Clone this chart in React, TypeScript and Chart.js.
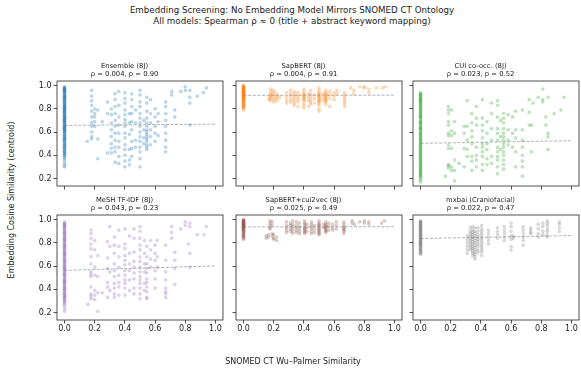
import React, { useEffect, useRef } from 'react';
import { Chart, registerables } from 'chart.js';

Chart.register(...registerables);

const FONT = '"DejaVu Sans", "Liberation Sans", sans-serif';

const figureTitle = 'Embedding Screening: No Embedding Model Mirrors SNOMED CT Ontology';
const figureSubtitle = 'All models: Spearman ρ ≈ 0 (title + abstract keyword mapping)';
const xAxisLabel = 'SNOMED CT Wu–Palmer Similarity';
const yAxisLabel = 'Embedding Cosine Similarity (centroid)';

const xTickValues = [0, 0.2, 0.4, 0.6, 0.8, 1.0];
const yTickValues = [0.2, 0.4, 0.6, 0.8, 1.0];

const panelNames = ['Ensemble (8J)', 'SapBERT (8J)', 'CUI co-occ. (8J)', 'MeSH TF-IDF (8J)', 'SapBERT+cui2vec (8J)', 'mxbai (Craniofacial)'];
const panelStats = ['ρ = 0.004, p = 0.90', 'ρ = 0.004, p = 0.91', 'ρ = 0.023, p = 0.52', 'ρ = 0.043, p = 0.23', 'ρ = 0.025, p = 0.49', 'ρ = 0.022, p = 0.47'];
const panelColors = ['#1f77b4', '#ff7f0e', '#2ca02c', '#9467bd', '#8c564b', '#7f7f7f'];
const trendStart = [0.658, 0.916, 0.503, 0.562, 0.937, 0.837];
const trendEnd = [0.668, 0.918, 0.525, 0.602, 0.939, 0.863];

type Col = [number, number[]];

const ensembleCols: Col[] = [
  [0, [0.99, 0.985, 0.98, 0.97, 0.965, 0.955, 0.95, 0.94, 0.935, 0.92, 0.915, 0.905, 0.9, 0.89, 0.88, 0.875, 0.86, 0.85, 0.845, 0.83, 0.82, 0.81, 0.8, 0.79, 0.78, 0.77, 0.76, 0.745, 0.74, 0.73, 0.72, 0.71, 0.7, 0.69, 0.68, 0.665, 0.66, 0.65, 0.64, 0.63, 0.62, 0.61, 0.6, 0.585, 0.57, 0.56, 0.55, 0.54, 0.53, 0.52, 0.5, 0.49, 0.48, 0.47, 0.46, 0.45, 0.44, 0.43, 0.42, 0.41, 0.4, 0.38, 0.37, 0.35, 0.33, 0.31, 0.3]],
  [0, [0.975, 0.962, 0.948, 0.928, 0.91, 0.896, 0.884, 0.866, 0.852, 0.836, 0.824, 0.815, 0.805, 0.795, 0.785, 0.775, 0.765, 0.752, 0.735, 0.725, 0.715, 0.705, 0.695, 0.685, 0.672, 0.655, 0.645, 0.635, 0.625, 0.615, 0.605, 0.592, 0.578, 0.565, 0.545, 0.535, 0.515, 0.505, 0.485, 0.465, 0.435, 0.415, 0.395]],
  [0.15, [0.52]],
  [0.18, [0.96, 0.91, 0.87, 0.83, 0.78, 0.73, 0.68, 0.65, 0.6, 0.56, 0.54]],
  [0.2, [0.8, 0.76, 0.73, 0.69, 0.65]],
  [0.22, [0.79, 0.54, 0.37]],
  [0.25, [0.69]],
  [0.285, [0.86, 0.76, 0.42]],
  [0.31, [0.8, 0.75, 0.68, 0.62, 0.56, 0.5, 0.46, 0.42]],
  [0.335, [0.93, 0.88, 0.82, 0.76, 0.7, 0.65, 0.59, 0.53, 0.47, 0.43, 0.34]],
  [0.36, [0.95, 0.83, 0.73, 0.66, 0.59, 0.52, 0.47, 0.39, 0.33]],
  [0.4, [0.94, 0.89, 0.85, 0.79, 0.75, 0.71, 0.68, 0.65, 0.59, 0.55, 0.49, 0.45, 0.4, 0.35, 0.3]],
  [0.43, [0.76, 0.68, 0.58, 0.45, 0.36, 0.32]],
  [0.445, [0.93, 0.88, 0.82, 0.76, 0.69, 0.62, 0.52, 0.46, 0.39]],
  [0.47, [0.79, 0.68, 0.53, 0.47]],
  [0.5, [0.96, 0.92, 0.86, 0.82, 0.76, 0.72, 0.68, 0.65, 0.6, 0.56, 0.52, 0.47, 0.43, 0.37, 0.3]],
  [0.525, [0.7, 0.62, 0.55, 0.5]],
  [0.545, [0.9, 0.85, 0.78, 0.72, 0.68, 0.65, 0.62, 0.6, 0.58, 0.56, 0.54, 0.52, 0.49, 0.47, 0.45]],
  [0.57, [0.88, 0.76, 0.68, 0.62, 0.56, 0.49]],
  [0.6, [0.8, 0.73, 0.65, 0.59, 0.52]],
  [0.62, [0.76, 0.69, 0.57]],
  [0.67, [0.86, 0.82, 0.76, 0.7, 0.65, 0.59, 0.53, 0.47, 0.43]],
  [0.71, [0.95, 0.92]],
  [0.73, [0.79, 0.73]],
  [0.77, [0.95]],
  [0.8, [0.99, 0.96]],
  [0.83, [0.96, 0.9, 0.85, 0.66]],
  [0.88, [0.91]],
  [0.92, [0.94]],
  [0.94, [0.98]],
];

const sapbertCols: Col[] = [
  [0, [1.0, 0.995, 0.99, 0.985, 0.98, 0.975, 0.97, 0.965, 0.96, 0.955, 0.95, 0.945, 0.94, 0.935, 0.93, 0.925, 0.92, 0.915, 0.91, 0.905, 0.9, 0.895, 0.89, 0.885, 0.88, 0.87, 0.865, 0.86, 0.85, 0.845, 0.84, 0.83, 0.82, 0.81, 0.8, 0.79]],
  [0, [0.997, 0.987, 0.978, 0.968, 0.958, 0.948, 0.938, 0.928, 0.918, 0.908, 0.898, 0.888, 0.875, 0.855, 0.835, 0.825, 0.815]],
  [0.17, [0.9, 0.88]],
  [0.18, [0.97, 0.95, 0.93, 0.92, 0.91, 0.89, 0.87]],
  [0.2, [0.96, 0.94, 0.92, 0.9, 0.88, 0.86]],
  [0.22, [0.93, 0.91, 0.89, 0.87]],
  [0.24, [0.9]],
  [0.285, [0.94, 0.9, 0.87, 0.85]],
  [0.31, [0.96, 0.93, 0.91, 0.88, 0.86]],
  [0.335, [0.95, 0.93, 0.91, 0.89, 0.87, 0.85, 0.83]],
  [0.36, [0.94, 0.92, 0.9, 0.88, 0.86, 0.82]],
  [0.4, [0.97, 0.95, 0.93, 0.92, 0.91, 0.9, 0.89, 0.88, 0.87, 0.85, 0.83, 0.81]],
  [0.43, [0.93, 0.9, 0.87, 0.82]],
  [0.445, [0.96, 0.93, 0.91, 0.88, 0.86, 0.84]],
  [0.47, [0.92, 0.89, 0.85]],
  [0.5, [0.98, 0.96, 0.94, 0.93, 0.92, 0.91, 0.9, 0.89, 0.88, 0.87, 0.86, 0.85, 0.83, 0.8, 0.78]],
  [0.525, [0.93, 0.9, 0.87]],
  [0.545, [0.96, 0.94, 0.93, 0.92, 0.91, 0.9, 0.89, 0.88, 0.87, 0.86, 0.84]],
  [0.57, [0.95, 0.92, 0.89, 0.82]],
  [0.6, [0.94, 0.91, 0.88]],
  [0.62, [0.96, 0.93]],
  [0.67, [0.94, 0.92, 0.9, 0.88, 0.86, 0.84, 0.82]],
  [0.71, [0.98]],
  [0.73, [0.96, 0.93]],
  [0.77, [0.99]],
  [0.8, [0.99, 0.98]],
  [0.83, [0.97, 0.94]],
  [0.88, [0.98]],
  [0.92, [0.98]],
  [0.94, [0.99]],
];

const cuiCols: Col[] = [
  [0, [0.94, 0.93, 0.92, 0.905, 0.89, 0.88, 0.87, 0.855, 0.84, 0.83, 0.82, 0.805, 0.79, 0.78, 0.77, 0.755, 0.74, 0.73, 0.72, 0.705, 0.69, 0.68, 0.67, 0.655, 0.64, 0.63, 0.62, 0.605, 0.59, 0.58, 0.57, 0.555, 0.54, 0.53, 0.52, 0.505, 0.49, 0.48, 0.47, 0.455, 0.44, 0.43, 0.42, 0.405, 0.39, 0.38, 0.37, 0.355, 0.34, 0.33, 0.32, 0.305, 0.29, 0.28, 0.27, 0.255, 0.24, 0.23, 0.22, 0.2, 0.185, 0.17]],
  [0, [0.925, 0.91, 0.895, 0.875, 0.86, 0.845, 0.815, 0.795, 0.765, 0.745, 0.725, 0.695, 0.675, 0.645, 0.625, 0.595, 0.565, 0.545, 0.515, 0.495, 0.465, 0.445, 0.415, 0.395, 0.365, 0.345, 0.315, 0.295, 0.265, 0.245, 0.215]],
  [0.165, [0.22]],
  [0.185, [0.82, 0.79, 0.76, 0.69, 0.66, 0.59, 0.57, 0.49, 0.46, 0.32, 0.31, 0.29]],
  [0.205, [0.79, 0.61, 0.57, 0.46, 0.3, 0.27]],
  [0.225, [0.69, 0.59, 0.36, 0.27, 0.18]],
  [0.255, [0.33]],
  [0.29, [0.65, 0.59, 0.46, 0.3]],
  [0.31, [0.87, 0.65, 0.53, 0.45, 0.39]],
  [0.34, [0.76, 0.68, 0.61, 0.56, 0.5, 0.39, 0.35, 0.27]],
  [0.37, [0.82, 0.72, 0.66, 0.47, 0.4, 0.36, 0.3]],
  [0.41, [0.88, 0.72, 0.66, 0.61, 0.55, 0.5, 0.47, 0.43, 0.39, 0.32, 0.27]],
  [0.44, [0.69, 0.59, 0.5, 0.45, 0.37, 0.32]],
  [0.47, [0.85, 0.76, 0.63, 0.53, 0.39, 0.33]],
  [0.51, [0.87, 0.83, 0.73, 0.63, 0.59, 0.53, 0.47, 0.43, 0.39, 0.36, 0.3, 0.24]],
  [0.53, [0.7, 0.56, 0.45]],
  [0.55, [0.76, 0.72, 0.68, 0.63, 0.59, 0.56, 0.53, 0.5, 0.47, 0.43, 0.4, 0.36, 0.32, 0.28]],
  [0.58, [0.75, 0.62, 0.53, 0.49]],
  [0.61, [0.73, 0.59, 0.47]],
  [0.63, [0.78, 0.62, 0.55, 0.43, 0.3]],
  [0.675, [0.79, 0.62, 0.53, 0.47, 0.4, 0.35, 0.3, 0.22]],
  [0.72, [0.88, 0.77, 0.66]],
  [0.735, [0.66, 0.43]],
  [0.745, [0.85]],
  [0.78, [0.9]],
  [0.81, [0.97, 0.88, 0.86]],
  [0.83, [0.73, 0.66]],
  [0.845, [0.9, 0.59, 0.56, 0.45]],
  [0.885, [0.76]],
  [0.93, [0.79]],
  [0.95, [0.9]],
];

const meshCols: Col[] = [
  [0, [0.98, 0.97, 0.96, 0.95, 0.94, 0.93, 0.915, 0.9, 0.89, 0.88, 0.87, 0.855, 0.84, 0.83, 0.82, 0.81, 0.795, 0.78, 0.77, 0.76, 0.75, 0.735, 0.72, 0.71, 0.7, 0.69, 0.675, 0.66, 0.65, 0.64, 0.63, 0.615, 0.6, 0.59, 0.58, 0.57, 0.555, 0.54, 0.53, 0.52, 0.51, 0.495, 0.48, 0.47, 0.46, 0.45, 0.435, 0.42, 0.41, 0.4, 0.39, 0.375, 0.36, 0.35, 0.34, 0.33, 0.315, 0.3, 0.29, 0.27, 0.25, 0.23, 0.21]],
  [0, [0.965, 0.945, 0.925, 0.905, 0.885, 0.865, 0.845, 0.825, 0.8, 0.785, 0.765, 0.745, 0.725, 0.705, 0.685, 0.665, 0.645, 0.625, 0.605, 0.585, 0.565, 0.545, 0.525, 0.505, 0.485, 0.465, 0.445, 0.425, 0.405, 0.385, 0.365, 0.345, 0.325, 0.305, 0.28]],
  [0.155, [0.27]],
  [0.175, [0.91, 0.88, 0.84, 0.79, 0.75, 0.68, 0.62, 0.55, 0.53, 0.51, 0.42, 0.36, 0.34, 0.32]],
  [0.2, [0.82, 0.74, 0.59, 0.52, 0.39, 0.35, 0.31]],
  [0.22, [0.69, 0.51, 0.37, 0.21]],
  [0.25, [0.37]],
  [0.285, [0.81, 0.67, 0.58, 0.46, 0.42, 0.33]],
  [0.3, [0.94, 0.77, 0.55, 0.39]],
  [0.33, [0.85, 0.78, 0.71, 0.62, 0.56, 0.51, 0.45, 0.41, 0.36, 0.33]],
  [0.36, [0.91, 0.77, 0.68, 0.59, 0.52, 0.46, 0.42, 0.35]],
  [0.4, [0.92, 0.79, 0.75, 0.69, 0.65, 0.61, 0.56, 0.52, 0.48, 0.45, 0.41, 0.35]],
  [0.43, [0.86, 0.71, 0.62, 0.56, 0.48, 0.39]],
  [0.46, [0.92, 0.84, 0.72, 0.64, 0.59, 0.54, 0.49, 0.41, 0.36]],
  [0.5, [0.94, 0.9, 0.84, 0.78, 0.74, 0.68, 0.64, 0.59, 0.55, 0.51, 0.48, 0.45, 0.41, 0.36, 0.32]],
  [0.53, [0.82, 0.71, 0.62, 0.55, 0.45, 0.39]],
  [0.545, [0.77, 0.68, 0.62, 0.58, 0.54, 0.49, 0.46, 0.42, 0.38, 0.33, 0.32]],
  [0.57, [0.82, 0.74, 0.66, 0.59]],
  [0.6, [0.78, 0.71, 0.65, 0.56, 0.49, 0.41]],
  [0.615, [0.82, 0.68, 0.59]],
  [0.67, [0.78, 0.65, 0.55, 0.48, 0.41, 0.38, 0.36, 0.33]],
  [0.71, [0.94, 0.89, 0.84]],
  [0.73, [0.72, 0.65, 0.58, 0.44]],
  [0.77, [0.92]],
  [0.8, [0.98, 0.95]],
  [0.82, [0.79]],
  [0.83, [0.97, 0.94, 0.71, 0.59]],
  [0.88, [0.87]],
  [0.925, [0.87]],
  [0.94, [0.94]],
];

const sapCuiCols: Col[] = [
  [0, [1.0, 0.995, 0.99, 0.985, 0.98, 0.975, 0.97, 0.965, 0.96, 0.955, 0.95, 0.945, 0.94, 0.935, 0.93, 0.925, 0.92, 0.91, 0.905, 0.9, 0.89, 0.88, 0.87, 0.86, 0.85, 0.84, 0.83]],
  [0, [0.997, 0.988, 0.978, 0.968, 0.958, 0.948, 0.938, 0.928, 0.915, 0.895, 0.875, 0.855]],
  [0.15, [0.84, 0.86]],
  [0.165, [0.87, 0.85]],
  [0.175, [0.99, 0.97, 0.95, 0.93, 0.92]],
  [0.19, [0.98, 0.95, 0.88, 0.86]],
  [0.2, [0.87, 0.84, 0.83]],
  [0.22, [0.85, 0.82]],
  [0.285, [0.98, 0.95, 0.93, 0.91, 0.89]],
  [0.31, [0.97, 0.95, 0.92, 0.9]],
  [0.325, [0.99, 0.96, 0.94, 0.92, 0.9, 0.88]],
  [0.35, [0.98, 0.95, 0.93, 0.91, 0.89]],
  [0.37, [0.97, 0.94, 0.92, 0.9, 0.88]],
  [0.405, [0.99, 0.97, 0.96, 0.94, 0.93, 0.92, 0.91, 0.9, 0.89, 0.88]],
  [0.42, [0.96, 0.93, 0.9]],
  [0.45, [0.98, 0.96, 0.94, 0.92, 0.9, 0.88]],
  [0.47, [0.95, 0.92, 0.89]],
  [0.5, [0.99, 0.97, 0.96, 0.95, 0.94, 0.93, 0.92, 0.91, 0.9, 0.89, 0.88, 0.87]],
  [0.53, [0.96, 0.93]],
  [0.545, [0.98, 0.96, 0.95, 0.94, 0.93, 0.92, 0.91, 0.9, 0.89]],
  [0.565, [0.97, 0.94, 0.91]],
  [0.59, [0.96, 0.93, 0.91]],
  [0.615, [0.98, 0.95, 0.92]],
  [0.665, [0.98, 0.96, 0.94, 0.93, 0.92, 0.91, 0.9, 0.88]],
  [0.72, [0.99, 0.97]],
  [0.735, [0.96]],
  [0.77, [0.98]],
  [0.8, [0.99, 0.97]],
  [0.83, [0.98, 0.96]],
  [0.915, [0.97]],
  [0.935, [0.99]],
];

const mxbaiCols: Col[] = [
  [0, [0.99, 0.98, 0.975, 0.97, 0.96, 0.955, 0.95, 0.94, 0.935, 0.93, 0.92, 0.915, 0.91, 0.9, 0.895, 0.89, 0.88, 0.875, 0.87, 0.86, 0.855, 0.85, 0.84, 0.835, 0.83, 0.82, 0.815, 0.81, 0.8, 0.79, 0.785, 0.78, 0.77, 0.76, 0.75, 0.74, 0.73, 0.72, 0.71, 0.7]],
  [0, [0.985, 0.965, 0.945, 0.925, 0.905, 0.885, 0.865, 0.845, 0.825, 0.805, 0.795, 0.775, 0.755, 0.735, 0.715]],
  [0.31, [0.86, 0.83, 0.8, 0.77, 0.74, 0.71]],
  [0.33, [0.93, 0.9, 0.88, 0.86, 0.84, 0.82, 0.8, 0.78, 0.76, 0.74]],
  [0.345, [0.94, 0.91, 0.89, 0.87, 0.85, 0.83, 0.81, 0.79, 0.77, 0.75, 0.73, 0.71, 0.69]],
  [0.36, [0.93, 0.9, 0.88, 0.86, 0.84, 0.82, 0.8, 0.78, 0.76, 0.74, 0.72, 0.7, 0.68, 0.66]],
  [0.38, [0.93, 0.9, 0.87, 0.85, 0.83, 0.81, 0.79, 0.77, 0.74, 0.72]],
  [0.405, [0.95, 0.92, 0.9, 0.88, 0.86, 0.84, 0.82, 0.8, 0.78, 0.76, 0.74, 0.72, 0.69]],
  [0.45, [0.91, 0.88, 0.85, 0.82, 0.79]],
  [0.51, [0.93, 0.9, 0.87, 0.84]],
  [0.555, [0.94, 0.91, 0.88, 0.85, 0.82]],
  [0.6, [0.97, 0.94, 0.9, 0.86, 0.83, 0.77, 0.74]],
  [0.615, [0.86, 0.84]],
  [0.68, [0.94, 0.91, 0.88, 0.85, 0.82, 0.78]],
  [0.73, [0.93, 0.91, 0.89, 0.88]],
  [0.78, [0.96, 0.92, 0.88, 0.85]],
  [0.81, [0.97, 0.94, 0.9, 0.87]],
  [0.84, [0.99, 0.97, 0.95, 0.92, 0.9, 0.87, 0.85]],
  [0.92, [0.98, 0.96, 0.93, 0.9]],
];

const panelCols: Col[][] = [ensembleCols, sapbertCols, cuiCols, meshCols, sapCuiCols, mxbaiCols];

const X_MIN = -0.05;
const X_MAX = 1.05;
const Y_MIN = 0.135;
const Y_MAX = 1.04;

const PLOT_W = 167;
const PLOT_H = 105;
const Y_AXIS_W = 32;
const TITLE_H = 20;
const X_AXIS_H = 16;
const RIGHT_PAD = 1;
const colLefts = [57, 236, 413];
const rowTops = [81, 215];

function hexToRgba(hex: string, a: number) {
  const n = parseInt(hex.slice(1), 16);
  return `rgba(${(n >> 16) & 255},${(n >> 8) & 255},${n & 255},${a})`;
}

const framePlugin = {
  id: 'frame',
  afterDraw(chart: any) {
    const { ctx, chartArea } = chart;
    ctx.save();
    ctx.strokeStyle = '#262626';
    ctx.lineWidth = 0.8;
    ctx.strokeRect(chartArea.left, chartArea.top, chartArea.right - chartArea.left, chartArea.bottom - chartArea.top);
    ctx.restore();
  },
};

function Panel({ idx }: { idx: number }) {
  const ref = useRef<HTMLCanvasElement>(null);
  const row = Math.floor(idx / 3);
  const col = idx % 3;
  const showX = row === 1;
  const showY = col === 0;
  const left = colLefts[col] - Y_AXIS_W;
  const top = rowTops[row] - TITLE_H;
  const width = Y_AXIS_W + PLOT_W + RIGHT_PAD;
  const height = TITLE_H + PLOT_H + X_AXIS_H;

  useEffect(() => {
    const color = panelColors[idx];
    const pts = panelCols[idx].flatMap(([x, ys]) => ys.map((y) => ({ x, y })));
    const chart = new Chart(ref.current as HTMLCanvasElement, {
      type: 'scatter',
      data: {
        datasets: [
          {
            type: 'scatter',
            data: pts,
            backgroundColor: hexToRgba(color, 0.28),
            borderColor: hexToRgba(color, 0.28),
            borderWidth: 0.4,
            pointRadius: 1.6,
            pointHoverRadius: 1.6,
            order: 1,
          },
          {
            type: 'line',
            data: [
              { x: 0, y: trendStart[idx] },
              { x: 1, y: trendEnd[idx] },
            ],
            borderColor: 'rgba(128,128,128,0.65)',
            borderWidth: 0.9,
            borderDash: [3.2, 1.4],
            pointRadius: 0,
            fill: false,
            order: 0,
          } as any,
        ],
      },
      options: {
        responsive: false,
        animation: false,
        events: [],
        layout: { padding: { left: 0, right: RIGHT_PAD, top: 0, bottom: 0 } },
        plugins: {
          legend: { display: false },
          tooltip: { enabled: false },
          title: {
            display: true,
            text: [panelNames[idx], panelStats[idx]],
            color: '#222',
            font: { family: FONT, size: 6.8, weight: 'normal', lineHeight: 1.2 },
            padding: { top: 1, bottom: TITLE_H - 1 - 6.8 * 1.2 * 2 },
          },
        },
        scales: {
          x: {
            type: 'linear',
            min: X_MIN,
            max: X_MAX,
            afterBuildTicks: (s: any) => {
              s.ticks = xTickValues.map((v) => ({ value: v }));
            },
            afterFit: (s: any) => {
              s.height = X_AXIS_H;
            },
            ticks: {
              display: showX,
              autoSkip: false,
              maxRotation: 0,
              padding: 0.5,
              color: '#222',
              font: { family: FONT, size: 8 },
              callback: (v: any) => Number(v).toFixed(1),
            },
            grid: { display: true, drawOnChartArea: false, drawTicks: true, tickLength: 3.5, color: '#262626', lineWidth: 0.8 },
            border: { display: false },
          },
          y: {
            type: 'linear',
            min: Y_MIN,
            max: Y_MAX,
            afterBuildTicks: (s: any) => {
              s.ticks = yTickValues.map((v) => ({ value: v }));
            },
            afterFit: (s: any) => {
              s.width = Y_AXIS_W;
            },
            ticks: {
              display: showY,
              autoSkip: false,
              padding: 2,
              color: '#222',
              font: { family: FONT, size: 8 },
              callback: (v: any) => Number(v).toFixed(1),
            },
            grid: { display: true, drawOnChartArea: false, drawTicks: true, tickLength: 3.5, color: '#262626', lineWidth: 0.8 },
            border: { display: false },
          },
        },
      },
      plugins: [framePlugin],
    } as any);
    return () => chart.destroy();
  }, [idx]);

  return (
    <canvas
      ref={ref}
      width={width}
      height={height}
      style={{ position: 'absolute', left, top, width, height }}
    />
  );
}

export default function App() {
  const textStyle: React.CSSProperties = {
    position: 'absolute',
    fontFamily: FONT,
    color: '#222',
    whiteSpace: 'nowrap',
    transform: 'translate(-50%, -50%)',
    lineHeight: 1,
  };
  return (
    <div
      style={{
        position: 'fixed',
        left: 0,
        top: 0,
        width: 581,
        height: 372,
        overflow: 'hidden',
        background: '#fff',
      }}
    >
      <div style={{ ...textStyle, left: 292, top: 9.5, fontSize: 8.7 }}>{figureTitle}</div>
      <div style={{ ...textStyle, left: 292, top: 21, fontSize: 8.7 }}>{figureSubtitle}</div>
      {[0, 1, 2, 3, 4, 5].map((i) => (
        <Panel key={i} idx={i} />
      ))}
      <div style={{ ...textStyle, left: 293, top: 362, fontSize: 8 }}>{xAxisLabel}</div>
      <div style={{ ...textStyle, left: 12, top: 200, fontSize: 8, transform: 'translate(-50%, -50%) rotate(-90deg)' }}>
        {yAxisLabel}
      </div>
    </div>
  );
}
